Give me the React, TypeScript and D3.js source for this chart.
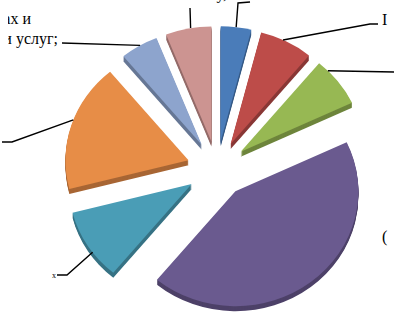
import React from "react";
import * as d3 from "d3";

// slices, clockwise from 12 o'clock
const categories = [
  "иные выплаты",
  "общегосударственные вопросы",
  "национальная экономика",
  "образование",
  "социальная политика",
  "жилищно-коммунальное хозяйство",
  "закупка товаров, работ и услуг",
  "культура",
];
const shares = [4, 7, 7, 43, 10, 18, 5, 6];
const colors = ["#4a7cb9", "#bd4c49", "#97b853", "#6a5a8f", "#4a9db6", "#e78d47", "#8da4cd", "#cc9491"];

// label text lines (mostly cut by the frame)
const labelLines = [
  ["Иные выплаты у,"],
  ["I"],
  ["национальная экономика"],
  ["("],
  ["х"],
  ["жилищно-коммунальное"],
  ["работах и", "оказании услуг;"],
  ["культура"],
];

const width = 396;
const height = 315;

const App = () => {
  const cx = 217;
  const cy = 169;
  const rx = 123;
  const ry = 115;
  const explode = 30;
  const depth = 5;
  const sx = rx / 100;
  const sy = ry / 100;

  const pie = d3.pie<number>().sort(null).value((d) => d);
  const arcs = pie(shares);
  const arc = d3.arc<d3.PieArcDatum<number>>().innerRadius(0).outerRadius(100);

  const slices = arcs.map((a, i) => {
    const mid = (a.startAngle + a.endAngle) / 2;
    const ox = cx + explode * Math.sin(mid);
    const oy = cy - explode * Math.cos(mid) * (ry / rx);
    return { a, i, ox, oy, d: arc(a) as string };
  });

  // point on the outer rim of a slice
  const rim = (i: number, t: number) => {
    const s = slices[i];
    const ang = s.a.startAngle + (s.a.endAngle - s.a.startAngle) * t;
    return [s.ox + rx * Math.sin(ang), s.oy - ry * Math.cos(ang)];
  };

  // leader lines: rim position along the slice, then elbow points
  const leaders = [
    { i: 0, t: 0.5, pts: [[238, 3], [250, 2]] },
    { i: 1, t: 0.43, pts: [[370, 24], [378, 24]] },
    { i: 2, t: 0.22, pts: [[394, 72]] },
    { i: 4, t: 0.39, pts: [[67, 275], [57, 275]] },
    { i: 5, t: 0.54, pts: [[12, 142], [2, 142]] },
    { i: 6, t: 0.53, pts: [[62, 43]] },
    { i: 7, t: 0.55, pts: [[190, 8]] },
  ];

  const line = d3.line();

  return (
    <svg width={width} height={height} style={{ display: "block", position: "absolute", left: 0, top: 0 }}>
      <defs>
        <clipPath id="leftcut">
          <rect x={8} y={0} width={width} height={height} />
        </clipPath>
      </defs>
      <rect width={width} height={height} fill="#fff" />
      {/* sides */}
      {slices.map((s) =>
        d3.range(depth, 0, -1).map((k) => (
          <path
            key={"s" + s.i + "-" + k}
            d={s.d}
            fill={d3.color(colors[s.i])!.darker(0.9).toString()}
            transform={`translate(${s.ox},${s.oy + k}) scale(${sx},${sy})`}
          />
        ))
      )}
      {/* tops */}
      {slices.map((s) => (
        <path
          key={"t" + s.i}
          d={s.d}
          fill={colors[s.i]}
          transform={`translate(${s.ox},${s.oy}) scale(${sx},${sy})`}
        />
      ))}
      {leaders.map((l) => {
        const start = rim(l.i, l.t) as [number, number];
        return (
          <path
            key={"l" + l.i}
            d={line([start, ...(l.pts as [number, number][])]) as string}
            fill="none"
            stroke="#000"
            strokeWidth={1.4}
          />
        );
      })}
      <g fontFamily="'Liberation Serif', serif" fontSize={16} fill="#000">
        <text x={227} y={-1} textAnchor="end">{labelLines[0][0]}</text>
        <text x={382} y={25}>{labelLines[1][0]}</text>
        <text x={400} y={78}>{labelLines[2][0]}</text>
        <text x={382} y={242}>{labelLines[3][0]}</text>
        <text x={56} y={278} fontSize={8} textAnchor="end">{labelLines[4][0]}</text>
        <text x={-2} y={147} textAnchor="end">{labelLines[5][0]}</text>
        <g clipPath="url(#leftcut)">
          <text x={31} y={24} textAnchor="end">{labelLines[6][0]}</text>
          <text x={58} y={44} textAnchor="end">{labelLines[6][1]}</text>
        </g>
        <text x={196} y={-12} textAnchor="end">{labelLines[7][0]}</text>
      </g>
    </svg>
  );
};

export default App;
